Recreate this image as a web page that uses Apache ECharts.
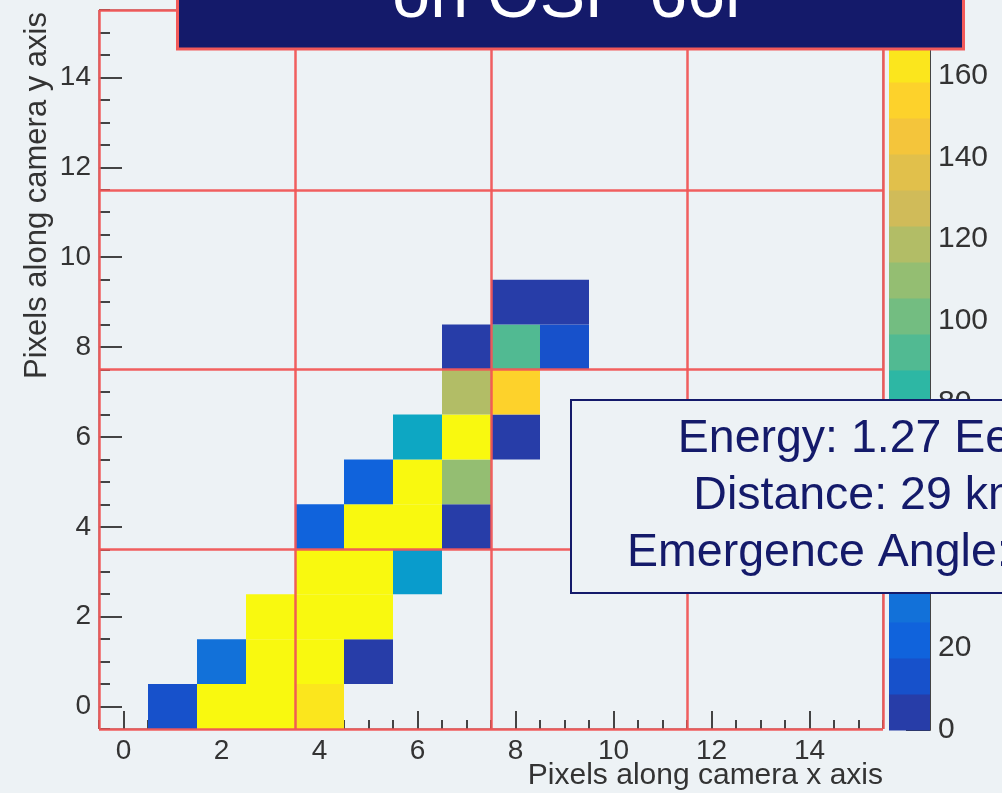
<!DOCTYPE html>
<html><head><meta charset="utf-8">
<script src="https://cdn.jsdelivr.net/npm/echarts@6/dist/echarts.min.js"></script>
<style>html,body{margin:0;padding:0;background:#edf2f5;}#c{width:1002px;height:793px;}</style>
</head><body><div id="c"></div>
<script>
// ---- data ----
const cellX     = [1,2,3,4, 2,3,4,5, 3,4,5, 4,5,6, 4,5,6,7, 5,6,7, 6,7,8, 7,8, 7,8,9, 8,9];
const cellY     = [0,0,0,0, 1,1,1,1, 2,2,2, 3,3,3, 4,4,4,4, 5,5,5, 6,6,6, 7,7, 8,8,8, 9,9];
const cellValue = [13,172,172,163, 30,174,176,4, 172,174,172, 172,172,57, 22,172,172,4, 22,172,110, 66,172,4, 118,153, 4,92,13, 4,4];
const axisTicks = [0,2,4,6,8,10,12,14];
const axisTickLabels = ['0','2','4','6','8','10','12','14'];
const boundaries = [-0.5,3.5,7.5,11.5,15.5];
const zLevels = [0,8.8,17.6,26.4,35.2,44,52.8,61.6,70.4,79.2,88,96.8,105.6,114.4,123.2,132,140.8,149.6,158.4,167.2,176];
const titleText = 'on OSP 66r';
const infoLines = ['Energy: 1.27 EeV','Distance: 29 km','Emergence Angle: 10°'];

// ---- ROOT kBird palette ----
const bS=[0,.125,.25,.375,.5,.625,.75,.875,1];
const bR=[0.2082,0.0592,0.0780,0.0232,0.1802,0.5301,0.8186,0.9956,0.9764];
const bG=[0.1664,0.3599,0.5041,0.6419,0.7178,0.7492,0.7328,0.7862,0.9832];
const bB=[0.5293,0.8684,0.8385,0.7914,0.6425,0.4662,0.3499,0.1968,0.0539];
function bird(f){
  let k=1; while(k<bS.length-1 && f>bS[k]) k++;
  const t=(f-bS[k-1])/(bS[k]-bS[k-1]);
  const c=a=>Math.round(255*(a[k-1]+(a[k]-a[k-1])*t));
  return 'rgb('+c(bR)+','+c(bG)+','+c(bB)+')';
}
const nLev = zLevels.length-1;
const levelColors = [];
for(let i=0;i<nLev;i++){ levelColors.push(bird(Math.floor((i+0.99)*255/nLev)/255)); }
const pieces = levelColors.map((col,i)=> i===nLev-1 ? {gte:zLevels[i], color:col} : {gte:zLevels[i], lt:zLevels[i+1], color:col});

const cells = cellX.map((x,i)=>[x, cellY[i], cellValue[i]]);
const bands = levelColors.map((c,i)=>[zLevels[i], zLevels[i+1], i]);

const FONT = '"Liberation Sans", Arial, sans-serif';
const tickColor = '#444';
const redLine = '#f05656';
const navy = '#141a6a';

const chart = echarts.init(document.getElementById('c'), null, {renderer:'canvas'});
const majorAxisCommon = (len, pos) => ({
  type:'value', min:-0.5, max:15.5, position:pos,
  axisLine:{show:false, onZero:false},
  axisTick:{show:true, inside:true, length:len, customValues:axisTicks, lineStyle:{color:tickColor, width:2}},
  axisLabel:{show:true, customValues:axisTicks, formatter:v=>axisTickLabels[axisTicks.indexOf(v)] ?? '', fontSize:28, fontFamily:FONT, color:'#333', margin:8},
  splitLine:{show:false}
});
const minorAxisCommon = (len, pos) => ({
  type:'value', min:-0.5, max:15.5, interval:0.5, position:pos,
  axisLine:{show:false, onZero:false},
  axisTick:{show:true, inside:true, length:len, lineStyle:{color:tickColor, width:2}},
  axisLabel:{show:false}, splitLine:{show:false}
});

chart.setOption({
  backgroundColor:'#edf2f5',
  animation:false,
  grid:[
    {left:99, top:10, width:784, height:719, show:true, borderColor:'#555', borderWidth:1, backgroundColor:'transparent'},
    {left:889, top:10, width:41, height:720, show:false}
  ],
  xAxis:[
    Object.assign({gridIndex:0}, majorAxisCommon(18,'bottom')),
    Object.assign({gridIndex:0}, minorAxisCommon(9,'bottom')),
    {gridIndex:1, type:'value', min:0, max:1, show:false, axisLine:{onZero:false}}
  ],
  yAxis:[
    Object.assign({gridIndex:0}, majorAxisCommon(23,'left')),
    Object.assign({gridIndex:0}, minorAxisCommon(11,'left')),
    {gridIndex:1, type:'value', min:0, max:176, interval:20, position:'right',
     axisLine:{show:true, onZero:false, lineStyle:{color:'#444', width:2}},
     axisTick:{show:true, inside:true, length:24, lineStyle:{color:'#333', width:2}},
     axisLabel:{show:true, showMaxLabel:false, fontSize:30, fontFamily:FONT, color:'#333', margin:8},
     splitLine:{show:false}}
  ],
  visualMap:[{type:'piecewise', show:false, seriesIndex:0, dimension:2, pieces:pieces}],
  series:[
    {type:'custom', xAxisIndex:0, yAxisIndex:0, data:cells, z:2,
     encode:{x:0, y:1},
     renderItem:(params, api)=>{
       const x=api.value(0), y=api.value(1);
       const p0=api.coord([x-0.5, y+0.5]);
       const p1=api.coord([x+0.5, y-0.5]);
       return {type:'rect', shape:{x:p0[0], y:p0[1], width:p1[0]-p0[0], height:p1[1]-p0[1]}, style:{fill:api.visual('color')}};
     }},
    {type:'line', xAxisIndex:0, yAxisIndex:0, data:[], z:5, silent:true,
     markLine:{silent:true, symbol:['none','none'], label:{show:false},
       lineStyle:{color:redLine, width:2.5, type:'solid', opacity:0.95},
       data: boundaries.map(b=>({xAxis:b})).concat(boundaries.map(b=>({yAxis:b})))}},
    {type:'custom', xAxisIndex:2, yAxisIndex:2, data:bands, z:2,
     renderItem:(params, api)=>{
       const lo=api.value(0), hi=api.value(1), i=api.value(2);
       const p0=api.coord([0, hi]);
       const p1=api.coord([1, lo]);
       return {type:'rect', shape:{x:p0[0], y:p0[1], width:p1[0]-p0[0], height:p1[1]-p0[1]+0.5}, style:{fill:levelColors[i]}};
     }}
  ],
  graphic:[
    {type:'text', x:37, y:12, rotation:Math.PI/2, z:10,
     style:{text:'Pixels along camera y axis', x:0, y:0, align:'right', verticalAlign:'middle', font:'31px '+FONT, fill:'#333'}},
    {type:'text', x:883, y:776, z:10,
     style:{text:'Pixels along camera x axis', x:0, y:0, align:'right', verticalAlign:'middle', font:'30px '+FONT, fill:'#333'}},
    {type:'rect', z:20, shape:{x:177.5, y:-60, width:786, height:109},
     style:{fill:navy, stroke:'#f25a5a', lineWidth:3}},
    {type:'text', z:21, x:570, y:-2,
     style:{text:titleText, x:0, y:0, align:'center', verticalAlign:'middle', font:'68px '+FONT, fill:'#ffffff'}},
    {type:'rect', z:20, shape:{x:571, y:400, width:620, height:193},
     style:{fill:'#edf2f5', stroke:navy, lineWidth:2}},
    {type:'text', z:21, x:860, y:439.5,
     style:{text:infoLines[0], x:0, y:0, align:'center', verticalAlign:'middle', font:'46.5px '+FONT, fill:navy}},
    {type:'text', z:21, x:860, y:496.5,
     style:{text:infoLines[1], x:0, y:0, align:'center', verticalAlign:'middle', font:'46.5px '+FONT, fill:navy}},
    {type:'text', z:21, x:860, y:553.5,
     style:{text:infoLines[2], x:0, y:0, align:'center', verticalAlign:'middle', font:'46.5px '+FONT, fill:navy}}
  ]
});
</script></body></html>
